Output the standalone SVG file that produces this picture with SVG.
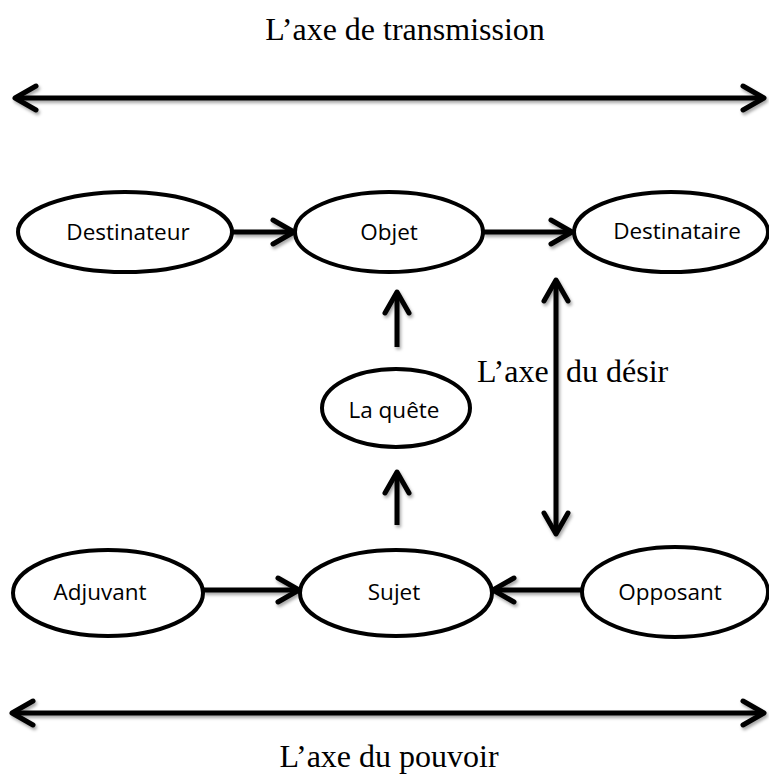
<svg xmlns="http://www.w3.org/2000/svg" width="769" height="781" viewBox="0 0 769 781">
<style>
.node ellipse{fill:#fff;stroke:#000;stroke-width:4}
.node text{font-family:"Open Sans","Liberation Sans",sans-serif;font-size:22.5px;fill:#000;text-anchor:middle}
.axis{font-family:"Liberation Serif","Times New Roman",serif;font-size:32px;fill:#000}
.conn line{stroke:#000;stroke-width:5;fill:none}
</style>
<defs>
<filter id="sh" x="-10%" y="-50%" width="120%" height="200%">
<feDropShadow dx="1.5" dy="2.5" stdDeviation="1.5" flood-color="#000" flood-opacity="0.35"/>
</filter>
<marker id="ah" markerUnits="userSpaceOnUse" viewBox="-26 -16 30 32" markerWidth="30" markerHeight="32" refX="0" refY="0" orient="auto-start-reverse">
<path d="M-21,-12 L0,0 L-21,12" fill="none" stroke="#000" stroke-width="5" stroke-linecap="round" stroke-linejoin="round"/>
</marker>
</defs>
<rect width="769" height="781" fill="#fff"/>
<text class="axis" x="405" y="40" text-anchor="middle">L’axe de transmission</text>
<text class="axis" x="389" y="767" text-anchor="middle">L’axe du pouvoir</text>
<g class="conn" filter="url(#sh)">
<line x1="15" y1="98" x2="764" y2="98" marker-start="url(#ah)" marker-end="url(#ah)"/>
<line x1="12" y1="713" x2="764" y2="713" marker-start="url(#ah)" marker-end="url(#ah)"/>
<line x1="233" y1="232" x2="294" y2="232" marker-end="url(#ah)"/>
<line x1="483" y1="232" x2="572" y2="232" marker-end="url(#ah)"/>
<line x1="397" y1="347" x2="397" y2="292" marker-end="url(#ah)"/>
<line x1="397" y1="525" x2="397" y2="472" marker-end="url(#ah)"/>
<line x1="556" y1="280" x2="556" y2="534" marker-start="url(#ah)" marker-end="url(#ah)"/>
<line x1="203" y1="590" x2="299" y2="590" marker-end="url(#ah)"/>
<line x1="582" y1="590" x2="493" y2="590" marker-end="url(#ah)"/>
</g>
<text class="axis" y="382"><tspan x="477">L’axe</tspan><tspan x="566">du désir</tspan></text>
<g id="destinateur" class="node"><ellipse cx="125" cy="232" rx="107" ry="40"/><text x="128" y="240">Destinateur</text></g>
<g id="objet" class="node"><ellipse cx="389" cy="232" rx="94" ry="40"/><text x="389" y="240">Objet</text></g>
<g id="destinataire" class="node"><ellipse cx="671" cy="232" rx="97" ry="40"/><text x="677" y="239">Destinataire</text></g>
<g id="quete" class="node"><ellipse cx="396" cy="408" rx="74" ry="39"/><text x="394" y="418">La quête</text></g>
<g id="adjuvant" class="node"><ellipse cx="108" cy="593" rx="95" ry="43"/><text x="100" y="600">Adjuvant</text></g>
<g id="sujet" class="node"><ellipse cx="396" cy="593" rx="96" ry="43"/><text x="394" y="600">Sujet</text></g>
<g id="opposant" class="node"><ellipse cx="675" cy="592" rx="93" ry="45"/><text x="670" y="600">Opposant</text></g>
</svg>
